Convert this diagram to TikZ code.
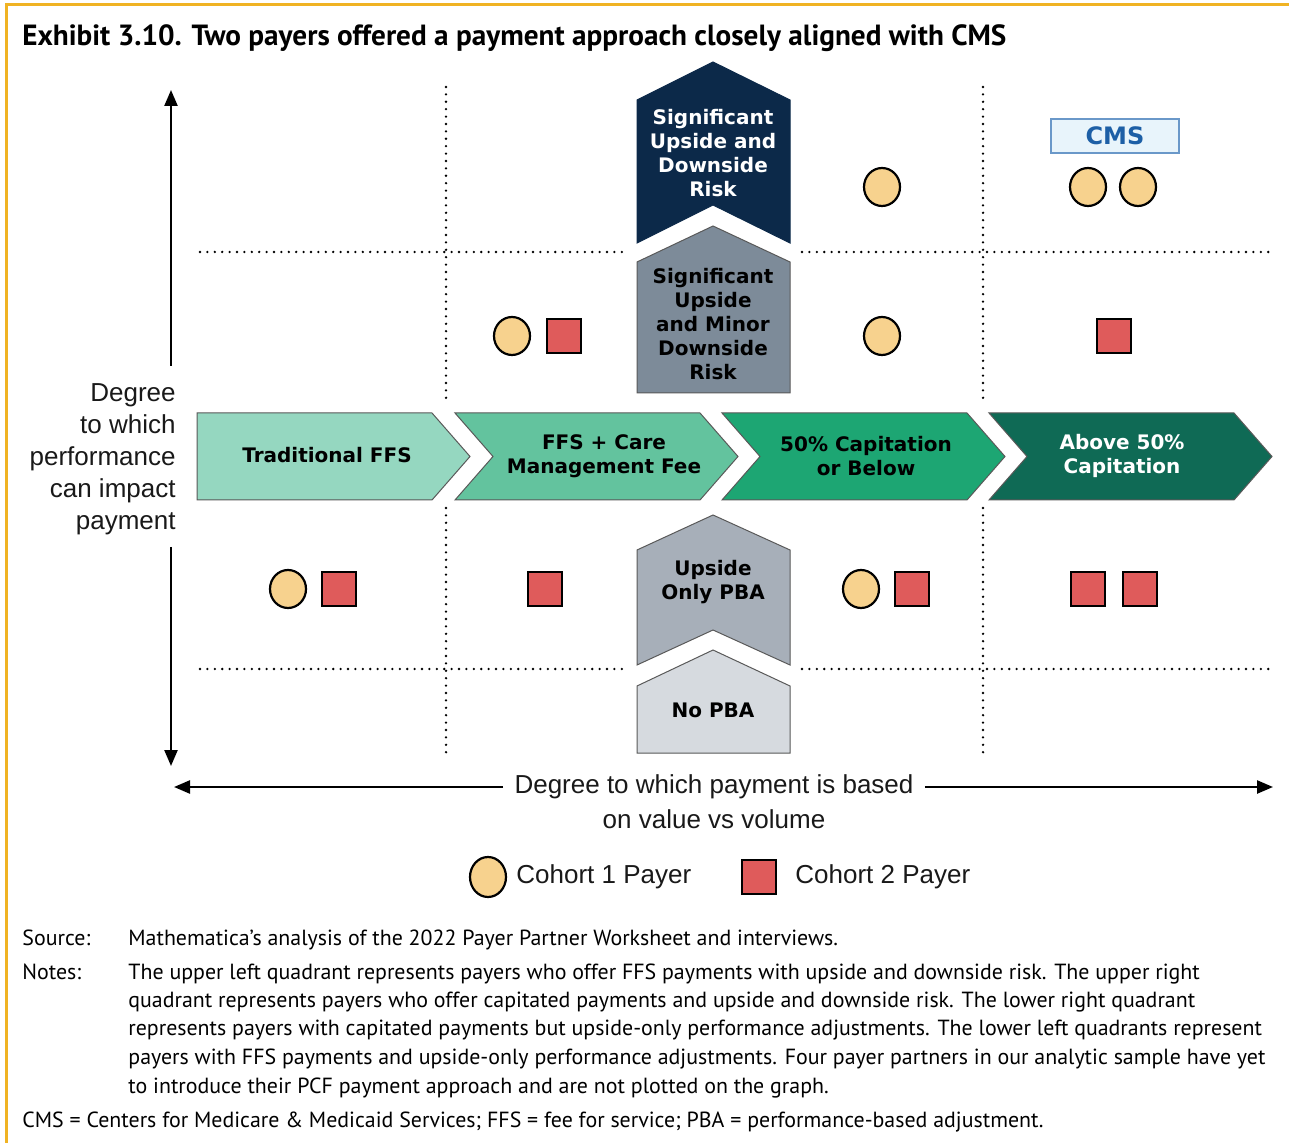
\documentclass[tikz,border=0pt]{standalone}
\usepackage{fontspec}
\setmainfont{PT Sans}
\newfontfamily\arialfont{Liberation Sans}
\newfontfamily\heavyfont{DejaVu Sans}
\usetikzlibrary{positioning,arrows.meta,shapes.geometric}

\definecolor{exhibitgold}{HTML}{F0B323}
\definecolor{navyrisk}{HTML}{0C2949}
\definecolor{slaterisk}{HTML}{7D8B99}
\definecolor{greypba}{HTML}{A7AFB9}
\definecolor{lightpba}{HTML}{D6DADF}
\definecolor{ffsmint}{HTML}{95D7C0}
\definecolor{caregreen}{HTML}{63C39E}
\definecolor{capgreen}{HTML}{1DA673}
\definecolor{abovegreen}{HTML}{0F6A55}
\definecolor{cohortone}{HTML}{F7D28E}
\definecolor{cohorttwo}{HTML}{DF5B5B}
\definecolor{cmsblue}{HTML}{1D5FA6}
\definecolor{cmsedge}{HTML}{6A98C9}
\definecolor{cmsfill}{HTML}{E8F4FB}

\begin{document}
\begin{tikzpicture}[x=0.5pt,y=-0.5pt,on grid,
    axis/.style={line width=1.2pt,-{Triangle[length=8pt,width=6.5pt]}},
    quadline/.style={line width=1.3pt,line cap=round,dash pattern=on 0pt off 3.7pt},
    chev/.style={draw=black!65,line width=0.5pt},
    boxlabel/.style={align=center,inner sep=0pt,font=\heavyfont\bfseries\fontsize{10}{12}\selectfont},
    axislabel/.style={font=\arialfont\fontsize{13}{16}\selectfont,text=black!90},
    payerone/.style={ellipse,draw=black,line width=1.1pt,fill=cohortone,minimum width=18pt,minimum height=19pt,inner sep=0pt},
    payertwo/.style={rectangle,draw=black,line width=1.1pt,fill=cohorttwo,minimum size=17pt,inner sep=0pt},
    notetext/.style={inner sep=0pt,font=\fontsize{10.95}{14.25}\selectfont}]
  \useasboundingbox (0,0) rectangle (1289,1143);
  \fill[white] (0,0) rectangle (1289,1143);
  \draw[exhibitgold,line width=1.5pt] (6,1143) -- (6,5) -- (1289,5);

  \node[anchor=base west,inner sep=0pt,font=\bfseries\fontsize{14.6}{17}\selectfont] (title) at (22,46)
    {Exhibit 3.10. Two payers offered a payment approach closely aligned with CMS};

  % quadrant lines
  \draw[quadline] (446,87) -- (446,405);
  \draw[quadline] (446,508) -- (446,755);
  \draw[quadline] (983,87) -- (983,405);
  \draw[quadline] (983,508) -- (983,755);
  \draw[quadline] (200,252) -- (628,252);
  \draw[quadline] (802,252) -- (1270,252);
  \draw[quadline] (200,669) -- (628,669);
  \draw[quadline] (802,669) -- (1270,669);

  % payment model chevrons
  \draw[chev,fill=ffsmint] (197,413) -- (432,413) -- (470,456.5) -- (432,500) -- (197,500) -- cycle;
  \draw[chev,fill=caregreen] (455,413) -- (700,413) -- (738,456.5) -- (700,500) -- (455,500) -- (493,456.5) -- cycle;
  \draw[chev,fill=capgreen] (722,413) -- (967,413) -- (1005,456.5) -- (967,500) -- (722,500) -- (760,456.5) -- cycle;
  \draw[chev,fill=abovegreen] (989,413) -- (1234,413) -- (1272,456.5) -- (1234,500) -- (989,500) -- (1027,456.5) -- cycle;
  \node[boxlabel] (trad) at (327,455) {Traditional FFS};
  \node[boxlabel] (care) at (604,456) {FFS + Care\\Management Fee};
  \node[boxlabel] (cap50) at (866,456) {50\% Capitation\\or Below};
  \node[boxlabel,text=white] (above50) at (1122,456) {Above 50\%\\Capitation};

  % risk chevrons
  \draw[draw=navyrisk,line width=0.5pt,fill=navyrisk] (637,243) -- (637,100) -- (713,62) -- (790,100) -- (790,243) -- (713,205) -- cycle;
  \draw[chev,fill=slaterisk] (637,393) -- (637,262) -- (713,226) -- (790,262) -- (790,393) -- cycle;
  \draw[chev,fill=greypba] (637,665) -- (637,550) -- (713,515) -- (790,550) -- (790,665) -- (713,630) -- cycle;
  \draw[chev,fill=lightpba] (637,753) -- (637,686) -- (713,650) -- (790,686) -- (790,753) -- cycle;
  \node[boxlabel,text=white] (sigboth) at (713,153) {Significant\\Upside and\\Downside\\Risk};
  \node[boxlabel] (sigminor) at (713,324) {Significant\\Upside\\and Minor\\Downside\\Risk};
  \node[boxlabel] (upsonly) at (713,582) {Upside\\Only PBA};
  \node[boxlabel] (nopba) at (713,710) {No PBA};

  \node[draw=cmsedge,fill=cmsfill,line width=1pt,minimum width=64pt,minimum height=17pt,
        text=cmsblue,font=\heavyfont\bfseries\fontsize{12}{14}\selectfont] (cms) at (1115,136) {CMS};

  % payers
  \node[payerone] (u1) at (882,187) {};
  \node[payerone] (u2) at (1088,187) {};
  \node[payerone,right=25pt of u2] (u3) {};
  \node[payerone] (m1) at (512,336) {};
  \node[payertwo,right=26pt of m1] (m2) {};
  \node[payerone,below=74.5pt of u1] (m3) {};
  \node[payertwo] (m4) at (1114,336) {};
  \node[payerone] (l1) at (288,589) {};
  \node[payertwo,right=25.5pt of l1] (l2) {};
  \node[payertwo] (l3) at (545,589) {};
  \node[payerone] (l4) at (861,589) {};
  \node[payertwo,right=25.5pt of l4] (l5) {};
  \node[payertwo] (l6) at (1088,589) {};
  \node[payertwo,right=26pt of l6] (l7) {};

  % axes
  \node[axislabel,align=right,anchor=east,inner sep=0pt] (vlabel) at (176,459)
    {Degree\\to which\\performance\\can impact\\payment};
  \coordinate (vtop) at (171,90);
  \coordinate (vupper) at (171,366);
  \coordinate (vlower) at (171,547);
  \coordinate (vbottom) at (171,766);
  \draw[axis] (vupper) -- (vtop);
  \draw[axis] (vlower) -- (vbottom);

  \node[axislabel,inner xsep=5.5pt,inner ysep=0pt] (hlabel) at (714,787) {Degree to which payment is based};
  \node[axislabel,inner sep=0pt,below=16pt of hlabel] (hlabel2) {on value vs volume};
  \coordinate (hleft) at (174,787);
  \coordinate (hright) at (1273,787);
  \draw[axis] (hlabel.west) -- (hleft);
  \draw[axis] (hlabel.east) -- (hright);

  % legend
  \node[payerone,minimum height=20pt] (leg1) at (488,877) {};
  \node[axislabel,inner sep=0pt,right=14pt of leg1,anchor=west] (leg1txt) {Cohort 1 Payer};
  \node[payertwo] (leg2) at (759,877) {};
  \node[axislabel,inner sep=0pt,right=18pt of leg2,anchor=west] (leg2txt) {Cohort 2 Payer};

  % notes
  \node[notetext,anchor=base west] (srclabel) at (22,945) {Source:};
  \node[notetext,anchor=base west] (srctext) at (128,945) {Mathematica’s analysis of the 2022 Payer Partner Worksheet and interviews.};
  \node[notetext,anchor=base west] (notelabel) at (22,979) {Notes:};
  \node[notetext,anchor=north west,align=left] (notebody) at (128,963)
    {The upper left quadrant represents payers who offer FFS payments with upside and downside risk. The upper right\\
     quadrant represents payers who offer capitated payments and upside and downside risk. The lower right quadrant\\
     represents payers with capitated payments but upside-only performance adjustments. The lower left quadrants represent\\
     payers with FFS payments and upside-only performance adjustments. Four payer partners in our analytic sample have yet\\
     to introduce their PCF payment approach and are not plotted on the graph.};
  \node[notetext,anchor=base west] (abbrev) at (22,1127)
    {CMS = Centers for Medicare \& Medicaid Services; FFS = fee for service; PBA = performance-based adjustment.};
\end{tikzpicture}
\end{document}
